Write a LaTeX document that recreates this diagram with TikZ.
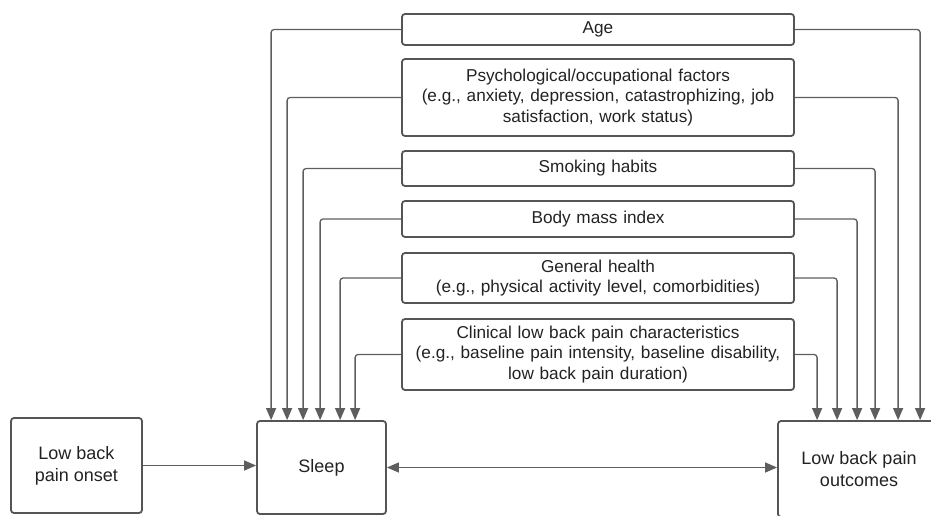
\documentclass[tikz,border=0pt]{standalone}
\usepackage{fontspec}
\setmainfont{Liberation Sans}
\usetikzlibrary{arrows.meta}

\definecolor{boxgray}{HTML}{555555}
\definecolor{linkgray}{HTML}{5E5E5E}
\definecolor{txtgray}{HTML}{222222}

\begin{document}
\begin{tikzpicture}[x=1pt,y=-1pt,
  factor/.style={draw=boxgray,line width=1.8pt,rounded corners=3pt,minimum width=392pt,
    text width=388pt,align=center,text=txtgray,inner sep=0pt,
    font=\fontsize{17.2}{20.5}\selectfont},
  mainbox/.style={draw=boxgray,line width=1.8pt,rounded corners=3pt,align=center,
    text=txtgray,inner sep=0pt,font=\fontsize{18}{22}\selectfont},
  link/.style={draw=linkgray,line width=1.3pt,rounded corners=3pt,-{Triangle[length=12pt,width=10pt]}}]
\useasboundingbox (0,0) rectangle (931,516);
\clip (0,0) rectangle (931,516);

% confounders
\node[factor,minimum height=31pt] (age) at (598,29.5) {Age};
\node[factor,minimum height=77pt] (psych) at (598,97.5) {Psychological/occupational factors\\(e.g., anxiety, depression, catastrophizing, job\\satisfaction, work status)};
\node[factor,minimum height=35pt] (smoke) at (598,168.5) {Smoking habits};
\node[factor,minimum height=36pt] (bmi) at (598,219) {Body mass index};
\node[factor,minimum height=50pt] (health) at (598,278) {General health\\(e.g., physical activity level, comorbidities)};
\node[factor,minimum height=71pt] (clin) at (598,354.5) {Clinical low back pain characteristics\\(e.g., baseline pain intensity, baseline disability,\\low back pain duration)};

% main boxes
\node[mainbox,minimum width=131pt,minimum height=95pt] (onset) at (76.5,465.5) {Low back\\pain onset};
\node[mainbox,minimum width=129pt,minimum height=93pt] (sleep) at (321.5,467.5) {Sleep};
\node[mainbox,minimum width=162pt,minimum height=96pt] (outc) at (859,469) {Low back pain\\outcomes};

% to sleep
\draw[link] (age.west) -| ([xshift=15pt]sleep.north west);
\draw[link] (psych.west) -| ([xshift=31pt]sleep.north west);
\draw[link] (smoke.west) -| ([xshift=47pt]sleep.north west);
\draw[link] (bmi.west) -| ([xshift=64pt]sleep.north west);
\draw[link] (health.west) -| ([xshift=84pt]sleep.north west);
\draw[link] (clin.west) -| ([xshift=99pt]sleep.north west);

% to outcomes
\draw[link] (age.east) -| ([xshift=143pt]outc.north west);
\draw[link] (psych.east) -| ([xshift=121pt]outc.north west);
\draw[link] (smoke.east) -| ([xshift=98pt]outc.north west);
\draw[link] (bmi.east) -| ([xshift=80pt]outc.north west);
\draw[link] (health.east) -| ([xshift=60pt]outc.north west);
\draw[link] (clin.east) -| ([xshift=40pt]outc.north west);

\draw[link] (onset.east) -- (onset.east -| sleep.west);
\draw[link,{Triangle[length=12pt,width=10pt]}-{Triangle[length=12pt,width=10pt]}] (sleep.east) -- (sleep.east -| outc.west);
\end{tikzpicture}
\end{document}
